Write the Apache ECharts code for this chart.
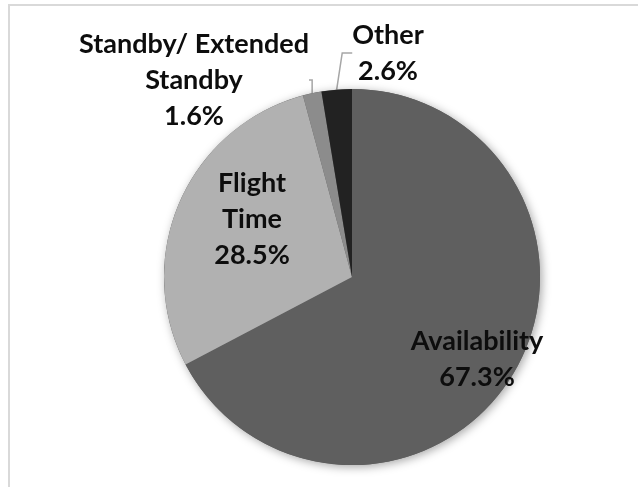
<!DOCTYPE html>
<html>
<head>
<meta charset="utf-8">
<script src="https://cdn.jsdelivr.net/npm/echarts@6/dist/echarts.min.js"></script>
<style>
  html, body { margin: 0; padding: 0; background: #fff; }
  #chart { width: 638px; height: 487px; }
</style>
</head>
<body>
<div id="chart"></div>
<script>
// 数据
const categories = ['Availability', 'Flight\nTime', 'Standby/ Extended\nStandby', 'Other'];
const shares = [67.3, 28.5, 1.6, 2.6];
const sliceColors = ['#5f5f5f', '#b1b1b1', '#8c8c8c', '#222222'];

// label centres (px) as Excel placed them
const labelPos = [[477, 359], [252, 219], [194, 80], [388, 53]];

const chart = echarts.init(document.getElementById('chart'));

const option = {
  animation: false,
  graphic: [{
    type: 'rect',
    shape: { x: 9, y: 5, width: 700, height: 600 },
    style: { fill: 'none', stroke: '#d9d9d9', lineWidth: 2 },
    silent: true
  }],
  series: [
    {
      // 阴影底盘
      type: 'pie',
      silent: true,
      center: [352, 277],
      radius: [0, 188],
      label: { show: false },
      labelLine: { show: false },
      itemStyle: {
        color: '#5f5f5f',
        shadowBlur: 10,
        shadowOffsetX: 2,
        shadowOffsetY: 2,
        shadowColor: 'rgba(0, 0, 0, 0.35)'
      },
      data: [1]
    },
    {
      type: 'pie',
      center: [352, 277],
      radius: [0, 188],
      startAngle: 90,
      clockwise: true,
      data: categories.map((name, i) => ({
        name: name,
        value: shares[i],
        itemStyle: { color: sliceColors[i] },
        label: { position: i < 2 ? 'inside' : 'outside' },
        labelLine: { show: i >= 2 }
      })),
      label: {
        show: true,
        formatter: p => `${p.name}\n${p.value.toFixed(1)}%`,
        fontFamily: 'Lato',
        fontWeight: 'bold',
        fontSize: 27,
        lineHeight: 36,
        color: '#0d0d0d',
        align: 'center'
      },
      labelLine: {
        length: 10,
        length2: 10,
        lineStyle: { color: '#a6a6a6', width: 1.5 }
      },
      labelLayout: p => ({
        x: labelPos[p.dataIndex][0],
        y: labelPos[p.dataIndex][1],
        align: 'center',
        verticalAlign: 'middle'
      }),
      itemStyle: { borderWidth: 0 },
      emphasis: { disabled: true }
    }
  ]
};

chart.setOption(option);
</script>
</body>
</html>
